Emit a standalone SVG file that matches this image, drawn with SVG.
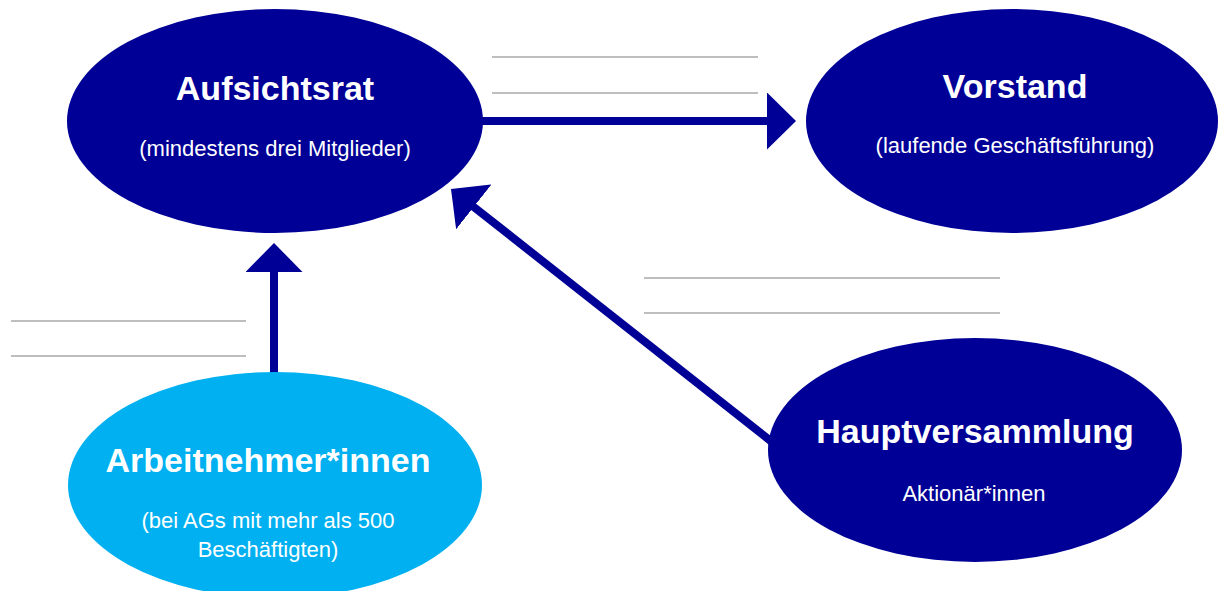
<svg xmlns="http://www.w3.org/2000/svg" width="1218" height="591" viewBox="0 0 1218 591">
<style>
.dark{fill:#000096}
.light{fill:#00b0f0}
.title{font-family:"Liberation Sans",Arial,sans-serif;font-weight:bold;font-size:34px;fill:#fff;text-anchor:middle}
.sub{font-family:"Liberation Sans",Arial,sans-serif;font-size:22px;fill:#fff;text-anchor:middle}
.conn{stroke:#000096;stroke-width:8;fill:none}
.rule{stroke:#a8a8a8;stroke-width:1.5}
</style>
<defs>
<marker id="head" viewBox="0 0 29 57" markerWidth="29" markerHeight="57" markerUnits="userSpaceOnUse" refX="1" refY="28.5" orient="auto">
<path d="M0,0 L29,28.5 L0,57 Z" fill="#000096"/>
</marker>
</defs>
<rect width="1218" height="591" fill="#fff"/>
<g id="rules">
<line class="rule" x1="492" y1="57" x2="758" y2="57"/>
<line class="rule" x1="492" y1="93" x2="758" y2="93"/>
<line class="rule" x1="11" y1="321" x2="246" y2="321"/>
<line class="rule" x1="11" y1="356" x2="246" y2="356"/>
<line class="rule" x1="644" y1="278" x2="1000" y2="278"/>
<line class="rule" x1="644" y1="313" x2="1000" y2="313"/>
</g>
<g id="connectors">
<line class="conn" x1="480" y1="121" x2="768" y2="121" marker-end="url(#head)"/>
<line class="conn" x1="274" y1="376" x2="274" y2="271" marker-end="url(#head)"/>
<line class="conn" x1="772" y1="442" x2="473" y2="206.3" marker-end="url(#head)"/>
</g>
<g id="aufsichtsrat">
<ellipse class="dark" cx="275" cy="121" rx="208" ry="112"/>
<text class="title" x="275" y="100">Aufsichtsrat</text>
<text class="sub" x="275" y="156">(mindestens drei Mitglieder)</text>
</g>
<g id="vorstand">
<ellipse class="dark" cx="1012" cy="121" rx="206" ry="112"/>
<text class="title" x="1015" y="98">Vorstand</text>
<text class="sub" x="1015" y="153">(laufende Geschäftsführung)</text>
</g>
<g id="arbeitnehmer">
<ellipse class="light" cx="275" cy="485" rx="207" ry="113"/>
<text class="title" x="268" y="472">Arbeitnehmer*innen</text>
<text class="sub" x="268" y="528">(bei AGs mit mehr als 500</text>
<text class="sub" x="268" y="557">Beschäftigten)</text>
</g>
<g id="hauptversammlung">
<ellipse class="dark" cx="975" cy="450" rx="207" ry="112"/>
<text class="title" x="975" y="443">Hauptversammlung</text>
<text class="sub" x="974" y="501">Aktionär*innen</text>
</g>
</svg>
